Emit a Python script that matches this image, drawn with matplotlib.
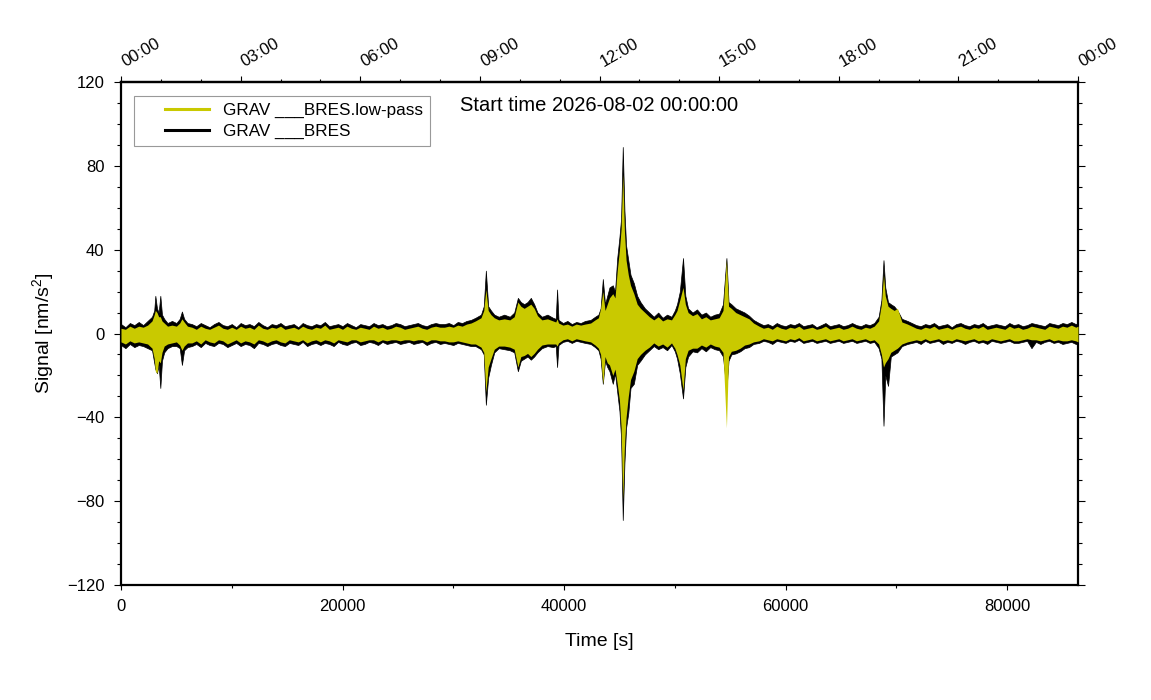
import matplotlib
matplotlib.use("Agg")
import numpy as np
import matplotlib.pyplot as plt
import matplotlib.transforms as mtransforms
from matplotlib.lines import Line2D
from matplotlib.legend_handler import HandlerBase

plt.rcParams['font.family'] = ['Liberation Sans', 'DejaVu Sans']
plt.rcParams['mathtext.default'] = 'regular'

# Envelope of both traces (time in s, signal in nm/s^2).
# raw = GRAV ___BRES (black), lp = GRAV ___BRES.low-pass (yellow)

# quiet start
t_seg0 = list(range(0, 2401, 400))
raw_hi0 = [4.5, 3.0, 5.0, 4.0, 5.5, 4.0, 6.0]
raw_lo0 = [-5.5, -7.0, -5.0, -6.5, -5.5, -6.0, -7.0]
lp_hi0 = [2.5, 2.0, 3.5, 2.5, 3.5, 3.0, 4.0]
lp_lo0 = [-4.0, -5.0, -3.5, -4.5, -4.0, -4.5, -5.0]

# two small events near 1 h
t_seg1 = [2800, 3000, 3100, 3250, 3400, 3550, 3700, 3900, 4200, 4600, 5000, 5300, 5500, 5700, 6000]
raw_hi1 = [8, 11, 18, 12, 10, 18, 9, 7, 5, 6, 5, 7, 10.5, 7, 5]
raw_lo1 = [-8, -14, -17, -19, -15, -26, -13, -9, -7, -6, -6, -7, -15, -8, -6.5]
lp_hi1 = [6, 9, 11, 10, 8, 8, 6, 5, 3.5, 4, 3.5, 5, 7, 5.5, 3.5]
lp_lo1 = [-7, -12, -18, -19, -13, -14, -9, -6, -5, -4.5, -4, -5.5, -8, -6, -4.5]

# long quiet stretch
t_seg2 = list(range(6400, 28801, 400))
raw_hi2 = [4.5, 3.5, 5.0, 4.0, 3.0, 4.5, 5.5, 4.0, 3.5, 4.5,
           3.0, 5.0, 4.0, 4.5, 3.5, 5.5, 4.0, 3.0, 4.5, 4.0,
           5.0, 3.5, 4.0, 4.5, 3.0, 5.0, 4.0, 3.5, 4.5, 4.0,
           5.5, 3.5, 4.0, 4.5, 3.5, 5.0, 4.0, 3.0, 4.5, 4.0,
           3.5, 5.0, 4.0, 4.5, 3.5, 4.0, 5.0, 4.5, 3.5, 4.0,
           4.5, 5.0, 4.0, 3.5, 4.5, 5.0, 4.5]
raw_lo2 = [-6.0, -5.0, -6.5, -4.5, -5.5, -6.0, -4.5, -5.0, -6.5, -5.5,
           -4.5, -6.0, -5.0, -5.5, -7.0, -4.5, -5.0, -6.0, -5.0, -4.5,
           -5.5, -6.0, -4.5, -5.0, -5.5, -4.0, -6.0, -5.0, -4.5, -5.5,
           -4.5, -5.0, -6.0, -4.0, -5.0, -5.5, -4.5, -4.0, -5.5, -5.0,
           -4.0, -4.5, -5.5, -4.0, -5.0, -4.5, -4.0, -5.0, -4.5, -4.0,
           -5.0, -4.5, -4.0, -5.5, -4.5, -4.0, -5.0]
lp_hi2 = [3.0, 2.0, 3.5, 2.5, 2.0, 3.0, 4.0, 2.5, 2.0, 3.0,
          2.0, 3.5, 2.5, 3.0, 2.0, 4.0, 2.5, 2.0, 3.0, 2.5,
          3.5, 2.0, 2.5, 3.0, 2.0, 3.5, 2.5, 2.0, 3.0, 2.5,
          4.0, 2.0, 2.5, 3.0, 2.0, 3.5, 2.5, 2.0, 3.0, 2.5,
          2.0, 3.5, 2.5, 3.0, 2.0, 2.5, 3.5, 3.0, 2.0, 2.5,
          3.0, 3.5, 2.5, 2.0, 3.0, 3.5, 3.0]
lp_lo2 = [-4.5, -3.5, -5.0, -3.0, -4.0, -4.5, -3.0, -3.5, -5.0, -4.0,
          -3.0, -4.5, -3.5, -4.0, -5.0, -3.0, -3.5, -4.5, -3.5, -3.0,
          -4.0, -4.5, -3.0, -3.5, -4.0, -3.0, -4.5, -3.5, -3.0, -4.0,
          -3.0, -3.5, -4.5, -3.0, -3.5, -4.0, -3.0, -3.0, -4.0, -3.5,
          -3.0, -3.0, -4.0, -3.0, -3.5, -3.0, -3.0, -3.5, -3.0, -3.0,
          -3.5, -3.0, -3.0, -4.0, -3.0, -3.0, -3.5]

# events between 09:00 and 11:00
t_seg3 = [29200, 29600, 30000, 30400, 30800, 31200, 31600, 32000, 32500, 32750, 32940,
          33150, 33400, 33700, 34100, 34600, 35100, 35500, 35830, 36100, 36400, 36700,
          37000, 37300, 37600, 38000, 38500, 39000, 39250, 39370,
          39500, 39900, 40300, 40700, 41100, 41500, 41900, 42400]
raw_hi3 = [4.5, 5.0, 4.0, 5.5, 5.0, 6.0, 6.5, 7.5, 9, 13, 30,
           13, 11, 9, 8, 9, 8, 10, 17, 15, 14, 15,
           17, 14, 10, 8, 9, 7.5, 7, 21,
           6.5, 5.0, 6.0, 4.5, 5.5, 5.0, 6.0, 6.5]
raw_lo3 = [-4.5, -5.0, -5.5, -4.5, -5.0, -5.5, -6.0, -6.0, -7.5, -10, -34,
           -21, -15, -9, -7, -7.5, -8, -9, -18, -13, -12, -11,
           -12.5, -11, -9, -7, -6, -6.5, -6, -16,
           -5.5, -4.0, -3.5, -4.5, -3.5, -4.0, -4.5, -5.0]
lp_hi3 = [3.0, 3.5, 3.0, 4.0, 3.5, 4.5, 5.0, 6.0, 7.5, 11, 21,
          11, 9, 7.5, 6.5, 7, 6.5, 8, 15, 13, 12, 13,
          14, 12, 8.5, 6.5, 7, 6, 5.5, 7,
          5.0, 4.0, 4.5, 3.5, 4.5, 4.0, 4.5, 5.0]
lp_lo3 = [-3.5, -4.0, -4.0, -3.5, -4.0, -4.5, -5.0, -5.0, -6.5, -9, -28,
          -16, -12, -7.5, -6, -6, -6.5, -7.5, -16, -11, -10.5, -9.5,
          -11, -9.5, -7.5, -5.5, -5, -5, -5, -6,
          -4.5, -3.0, -2.5, -3.5, -2.5, -3.0, -3.5, -4.0]

# main event around 12:30 and the two after it
t_seg4 = [42800, 43100, 43300, 43500, 43700, 43900, 44100, 44400, 44600, 44800, 45000, 45150,
          45300, 45450, 45600, 45800, 46000, 46300, 46600, 46900, 47300,
          47700, 48100, 48500, 48900, 49300, 49700, 50000,
          50200, 50450, 50740, 50950,
          51200, 51600, 52000, 52400, 52800, 53200, 53600, 54000,
          54350, 54660, 54850,
          55100, 55500, 55900, 56300, 56700, 57100]
raw_hi4 = [8, 9, 12, 26, 14, 18, 22, 23, 20, 36, 46, 55,
           89, 59, 42, 35, 28, 24, 18, 15, 12,
           10, 8, 10, 7.5, 9, 8, 11,
           14, 20, 36, 18,
           12, 10, 11.5, 9, 10, 8, 9, 9.5,
           14, 36, 15,
           14, 12, 11, 10, 8.5, 6.5]
raw_lo4 = [-6.5, -8, -12, -24, -13, -16, -18, -24, -19, -28, -37, -50,
           -89, -62, -45, -38, -26, -24, -15, -13, -10,
           -8, -6, -7.5, -6.5, -8, -5.5, -8.5,
           -12, -19, -31, -16,
           -11, -8.5, -9, -7, -8.5, -6.5, -7.5, -8,
           -11, -27, -13,
           -10, -9.5, -8.5, -7, -6.5, -5]
lp_hi4 = [6.5, 7.5, 12, 20, 11, 14, 17, 19, 17, 30, 40, 50,
          76, 49, 35, 28, 23, 19, 14, 12, 10,
          8, 6.5, 8, 6, 7, 6.5, 9,
          11, 16, 22, 14,
          10, 8.5, 9.5, 7, 8, 6.5, 7, 7.5,
          11, 35, 13,
          12, 10, 9, 8, 7, 5]
lp_lo4 = [-5.5, -7, -10, -24, -11, -14, -15, -20, -17, -24, -32, -45,
          -79, -54, -40, -30, -22, -18, -12, -10, -8,
          -6.5, -4.5, -6, -5, -6.5, -4.5, -7,
          -10, -15, -27, -12,
          -8, -7, -7, -5.5, -6.5, -5, -6, -6.5,
          -9, -45, -11,
          -8.5, -8, -7, -5.5, -5, -4]

# quiet afternoon
t_seg5 = list(range(57600, 68001, 400))
raw_hi5 = [5.0, 4.0, 4.5, 3.5, 5.0, 4.0, 3.5, 4.5, 4.0, 5.0, 3.5, 4.0, 4.5, 3.0,
           4.0, 5.0, 3.5, 4.0, 4.5, 3.5, 4.0, 5.0, 4.0, 3.5, 4.5, 4.0, 5.0]
raw_lo5 = [-4.5, -3.5, -4.0, -5.0, -3.5, -4.0, -4.5, -3.5, -4.0, -3.0, -4.5, -4.0, -3.5, -4.5,
           -4.0, -3.5, -4.5, -4.0, -3.5, -4.5, -4.0, -3.5, -4.5, -4.0, -3.5, -4.5, -4.0]
lp_hi5 = [3.5, 2.5, 3.0, 2.0, 3.5, 2.5, 2.0, 3.0, 2.5, 3.5, 2.0, 2.5, 3.0, 2.0,
          2.5, 3.5, 2.0, 2.5, 3.0, 2.0, 2.5, 3.5, 2.5, 2.0, 3.0, 2.5, 3.5]
lp_lo5 = [-3.5, -2.5, -3.0, -3.5, -2.5, -3.0, -3.5, -2.5, -3.0, -2.0, -3.5, -3.0, -2.5, -3.5,
          -3.0, -2.5, -3.5, -3.0, -2.5, -3.5, -3.0, -2.5, -3.5, -3.0, -2.5, -3.5, -3.0]

# event near 19:00
t_seg6 = [68400, 68650, 68840, 69000, 69250, 69500, 69800, 70100, 70500, 71000]
raw_hi6 = [8, 16, 35, 22, 15, 14, 13, 11, 7, 6]
raw_lo6 = [-7, -12, -44, -20, -25, -11, -10, -9, -6, -5]
lp_hi6 = [6, 14, 28, 18, 13, 12, 11, 12, 5.5, 4.5]
lp_lo6 = [-5, -10, -16, -14, -12, -9, -8, -7, -5, -4]

# quiet evening
t_seg7 = list(range(71400, 86201, 400)) + [86400]
raw_hi7 = [5.0, 4.0, 3.5, 4.5, 4.0, 5.0, 3.5, 4.0, 4.5, 3.0, 4.5, 5.0, 4.0,
           3.5, 4.5, 4.0, 5.0, 3.5, 4.0, 4.5, 4.0, 3.5, 5.0, 4.0, 4.5, 3.5,
           4.0, 5.0, 4.5, 4.0, 3.5, 5.0, 4.5, 4.0, 5.0, 4.5, 5.5, 4.5, 5.0]
raw_lo7 = [-4.5, -4.0, -5.0, -3.5, -4.5, -4.0, -3.5, -5.0, -4.0, -4.5, -3.5, -4.0, -5.0,
           -4.0, -3.5, -4.5, -4.0, -5.0, -3.5, -4.0, -4.5, -4.0, -3.5, -4.5, -4.5, -4.0,
           -3.5, -7.0, -4.0, -5.0, -4.0, -3.5, -4.5, -4.0, -5.0, -4.5, -4.0, -5.0, -5.0]
lp_hi7 = [3.5, 2.5, 2.0, 3.0, 2.5, 3.5, 2.0, 2.5, 3.0, 2.0, 3.0, 3.5, 2.5,
          2.0, 3.0, 2.5, 3.5, 2.0, 2.5, 3.0, 2.5, 2.0, 3.5, 2.5, 3.0, 2.0,
          2.5, 3.5, 3.0, 2.5, 2.0, 3.5, 3.0, 2.5, 3.5, 3.0, 4.0, 3.0, 3.5]
lp_lo7 = [-3.5, -3.0, -3.5, -2.5, -3.5, -3.0, -2.5, -3.5, -3.0, -3.5, -2.5, -3.0, -3.5,
          -3.0, -2.5, -3.5, -3.0, -3.5, -2.5, -3.0, -3.5, -3.0, -2.5, -3.5, -3.5, -3.0,
          -2.5, -3.0, -3.0, -3.5, -3.0, -2.5, -3.5, -3.0, -3.5, -3.5, -3.0, -3.5, -4.0]

hour_ticks = list(range(0, 25))
clock_labels = ["00:00", "03:00", "06:00", "09:00", "12:00", "15:00", "18:00", "21:00", "00:00"]
legend_labels = ["GRAV ___BRES.low-pass", "GRAV ___BRES"]
start_text = "Start time 2026-08-02 00:00:00"

YELLOW = "#c9c900"

t = np.concatenate([t_seg0, t_seg1, t_seg2, t_seg3, t_seg4, t_seg5, t_seg6, t_seg7])
raw_hi = np.concatenate([raw_hi0, raw_hi1, raw_hi2, raw_hi3, raw_hi4, raw_hi5, raw_hi6, raw_hi7])
raw_lo = np.concatenate([raw_lo0, raw_lo1, raw_lo2, raw_lo3, raw_lo4, raw_lo5, raw_lo6, raw_lo7])
lp_hi = np.concatenate([lp_hi0, lp_hi1, lp_hi2, lp_hi3, lp_hi4, lp_hi5, lp_hi6, lp_hi7])
lp_lo = np.concatenate([lp_lo0, lp_lo1, lp_lo2, lp_lo3, lp_lo4, lp_lo5, lp_lo6, lp_lo7])

fig = plt.figure(figsize=(11.51, 7.0), dpi=100)
ax = fig.add_axes([121 / 1151, 1 - 585 / 700, (1078 - 121) / 1151, (585 - 82) / 700])

ax.fill_between(t, raw_lo, raw_hi, color="black", linewidth=0.5, edgecolor="black", zorder=2)
ax.fill_between(t, lp_lo, lp_hi, color=YELLOW, linewidth=0, zorder=3)

ax.set_xlim(0, 86400)
ax.set_ylim(-120, 120)
ax.set_xticks(np.arange(0, 86401, 20000))
ax.set_xticks(np.arange(0, 86401, 10000), minor=True)
ax.set_yticks(np.arange(-120, 121, 40))
ax.set_yticks(np.arange(-120, 121, 10), minor=True)
ax.tick_params(axis="x", which="major", direction="out", length=3.6, width=0.8,
               labelsize=12, pad=6.5)
ax.tick_params(axis="x", which="minor", direction="out", length=2.5, width=0.8)
ax.tick_params(axis="y", which="major", direction="out", length=5, width=0.8,
               labelsize=12, pad=7, right=True)
ax.tick_params(axis="y", which="minor", direction="out", length=3, width=0.8, right=True)
for sp in ax.spines.values():
    sp.set_linewidth(1.6)

sec = ax.secondary_xaxis("top")
sec.set_xticks([h * 3600 for h in hour_ticks[::3]], labels=clock_labels)
sec.set_xticks([h * 3600 for h in hour_ticks], minor=True)
sec.tick_params(which="major", direction="out", length=4, width=0.8, labelsize=12, pad=5)
sec.tick_params(which="minor", direction="out", length=2.5, width=0.8)
shift = mtransforms.ScaledTranslation(4 / 72, 0, fig.dpi_scale_trans)
for lab in sec.get_xticklabels():
    lab.set_rotation(30)
    lab.set_ha("left")
    lab.set_va("bottom")
    lab.set_rotation_mode("anchor")
    lab.set_transform(lab.get_transform() + shift)
sec.spines["top"].set_linewidth(1.6)

ax.set_xlabel("Time [s]", fontsize=14, labelpad=14)
ax.set_ylabel("Signal [nm/s$^{2}$]", fontsize=14, labelpad=8)
ax.text(0.5, 0.954, start_text, transform=ax.transAxes,
        ha="center", va="center", fontsize=14.5)


class OffsetLine(HandlerBase):
    # GMT style legend: short line with blank space in front
    def create_artists(self, legend, orig_handle, xdescent, ydescent, width, height,
                       fontsize, trans):
        y = height / 2 - ydescent
        x0 = -xdescent + 0.35 * width
        line = Line2D([x0, -xdescent + width], [y, y], color=orig_handle.get_color(),
                      lw=orig_handle.get_linewidth(), transform=trans)
        return [line]


handles = [Line2D([], [], color=YELLOW, lw=2.2), Line2D([], [], color="black", lw=2.2)]
leg = ax.legend(handles, legend_labels, loc="upper left",
                bbox_to_anchor=(13 / 957, 1 - 14 / 503), fontsize=12.3, fancybox=False,
                framealpha=1, edgecolor="#999999", handlelength=4.0, handletextpad=0.8,
                labelspacing=0.35, borderpad=0.4, borderaxespad=0,
                handler_map={Line2D: OffsetLine()})
leg.get_frame().set_linewidth(0.8)

fig.savefig("out.png", dpi=100)
